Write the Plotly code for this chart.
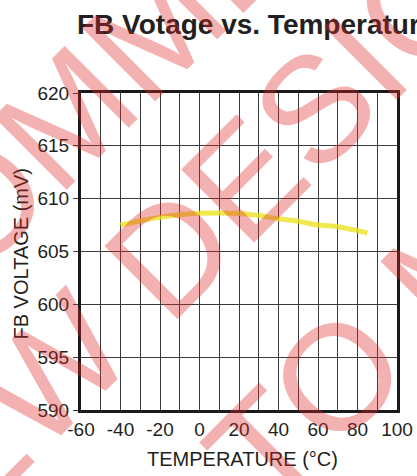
import plotly.graph_objects as go

# ---- data ----
temp_c = [-40, -30, -20, -10, 0, 10, 20, 30, 40, 50, 60, 70, 80, 85]
fb_mv = [607.5, 607.9, 608.23, 608.48, 608.62, 608.65, 608.6, 608.4, 608.1, 607.85, 607.5, 607.35, 606.97, 606.75]

x_ticks = [-60, -50, -40, -30, -20, -10, 0, 10, 20, 30, 40, 50, 60, 70, 80, 90, 100]
x_tick_text = ["-60", "", "-40", "", "-20", "", "0", "", "20", "", "40", "", "60", "", "80", "", "100"]
y_ticks = [590, 595, 600, 605, 610, 615, 620]
y_tick_text = ["590", "595", "600", "605", "610", "615", "620"]

title_text = "FB Votage vs. Temperature"
x_title = "TEMPERATURE (°C)"
y_title = "FB VOLTAGE (mV)"
watermark_lines = ["NOT RECOMMENDED FOR", "NEW DESIGNS", "REFER TO MP2359"]

# ---- layout geometry (pixels) ----
W, H = 417, 476
L, R, T, B = 81, 20, 93, 66
PW, PH = W - L - R, H - T - B


def px_to_paper(px, py):
    return (px - L) / PW, (H - B - py) / PH


TXT = "#231F20"
GRID = "#3a3a3a"
FONT = "Liberation Sans, Arial, sans-serif"

fig = go.Figure()
fig.add_trace(go.Scatter(
    x=temp_c, y=fb_mv, mode="lines",
    line=dict(color="rgba(236,226,30,0.78)", width=5, shape="spline", smoothing=0.6),
    hoverinfo="skip", showlegend=False,
))

axis_common = dict(
    showline=True, linewidth=3, linecolor="#1a1a1a", mirror=True,
    showgrid=True, gridcolor=GRID, gridwidth=1.3, automargin=False,
    zeroline=False, tickfont=dict(family=FONT, size=19, color=TXT),
)

fig.update_xaxes(
    range=[-60, 100], tickmode="array", tickvals=x_ticks, ticktext=x_tick_text,
    ticks="", ticklabelstandoff=0, **axis_common,
)
fig.update_yaxes(
    range=[590, 620], tickmode="array", tickvals=y_ticks, ticktext=y_tick_text,
    ticks="outside", ticklen=5, tickwidth=1.3, tickcolor=GRID, **axis_common,
)

annotations = []
# axis titles
xt = px_to_paper(242.5, 458.5)
annotations.append(dict(text=x_title, x=xt[0], y=xt[1], xref="paper", yref="paper",
                        showarrow=False, xanchor="center", yanchor="middle",
                        font=dict(family=FONT, size=20, color=TXT)))
yt = px_to_paper(20, 253.5)
annotations.append(dict(text=y_title, x=yt[0], y=yt[1], xref="paper", yref="paper",
                        showarrow=False, xanchor="center", yanchor="middle", textangle=-90,
                        font=dict(family=FONT, size=20, color=TXT)))

# watermark
wm_pos = [(143, 40), (232, 191), (324, 390)]
for line, (px, py) in zip(watermark_lines, wm_pos):
    p = px_to_paper(px, py)
    annotations.append(dict(text=line, x=p[0], y=p[1], xref="paper", yref="paper",
                            showarrow=False, xanchor="center", yanchor="middle", textangle=-45,
                            font=dict(family=FONT, size=150, color="rgba(222,40,40,0.36)")))

fig.update_layout(
    width=W, height=H,
    margin=dict(l=L, r=R, t=T, b=B, pad=0, autoexpand=False),
    paper_bgcolor="white", plot_bgcolor="white",
    title=dict(text=title_text, x=77 / W, xanchor="left", xref="container",
               y=1 - 24 / H, yanchor="middle", yref="container",
               font=dict(family=FONT, size=28, color=TXT, weight="bold")),
    annotations=annotations,
    showlegend=False,
)

fig.write_html(
    "out.html",
    config={"displayModeBar": False},
    post_script="document.body.style.margin='0';document.body.style.overflow='hidden';",
)
